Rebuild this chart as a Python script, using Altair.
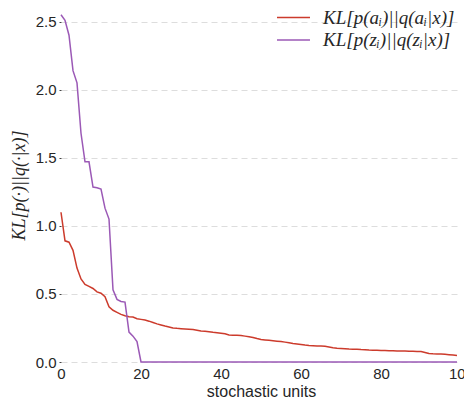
import altair as alt
import pandas as pd

units = list(range(100))

kl_a = [1.10, 0.89, 0.88, 0.82, 0.69, 0.61, 0.57, 0.555, 0.54, 0.515,
        0.505, 0.48, 0.405, 0.38, 0.365, 0.35, 0.34, 0.332, 0.33, 0.318,
        0.313, 0.308, 0.300, 0.290, 0.280, 0.272, 0.264, 0.257, 0.250, 0.247,
        0.245, 0.243, 0.241, 0.238, 0.233, 0.228, 0.225, 0.222, 0.218, 0.215,
        0.212, 0.208, 0.198, 0.197, 0.196, 0.194, 0.190, 0.185, 0.180, 0.172,
        0.165, 0.162, 0.159, 0.156, 0.153, 0.150, 0.146, 0.141, 0.136, 0.133,
        0.129, 0.125, 0.122, 0.120, 0.118, 0.117, 0.115, 0.110, 0.105, 0.101,
        0.099, 0.097, 0.095, 0.094, 0.093, 0.091, 0.090, 0.088, 0.087, 0.086,
        0.085, 0.084, 0.083, 0.082, 0.081, 0.080, 0.080, 0.079, 0.079, 0.078,
        0.077, 0.070, 0.062, 0.060, 0.059, 0.058, 0.057, 0.054, 0.051, 0.048]

kl_z = [2.55, 2.51, 2.40, 2.14, 2.05, 1.68, 1.47, 1.47, 1.285, 1.28,
        1.27, 1.13, 1.05, 0.53, 0.46, 0.445, 0.44, 0.22, 0.19, 0.15] + [0.0] * 80

series_names = ["KL[p(aᵢ)||q(aᵢ|x)]", "KL[p(zᵢ)||q(zᵢ|x)]"]
series_colors = ["#cc3b2c", "#9b59b6"]

rows = []
for name, vals in zip(series_names, [kl_a, kl_z]):
    for u, v in zip(units, vals):
        rows.append({"unit": u, "kl": v, "series": name})
df = pd.DataFrame(rows)

chart = alt.Chart(df).mark_line(strokeWidth=1.5).encode(
    x=alt.X("unit:Q",
            scale=alt.Scale(domain=[0, 100], nice=False, zero=False),
            axis=alt.Axis(title="stochastic units", values=[0, 20, 40, 60, 80, 100],
                          grid=False, domain=False, ticks=False,
                          labelFontSize=15, labelFont="Liberation Sans",
                          labelColor="#262626", labelPadding=4,
                          titleFontSize=16, titleFont="Liberation Sans",
                          titleFontWeight="normal", titleColor="#262626",
                          titlePadding=2, labelFlush=False)),
    y=alt.Y("kl:Q",
            scale=alt.Scale(domain=[0, 2.6], nice=False),
            axis=alt.Axis(title="KL[p(·)||q(·|x)]", values=[0, 0.5, 1.0, 1.5, 2.0, 2.5],
                          format=".1f", grid=True, gridDash=[6, 4],
                          gridColor="#dddddd", gridWidth=1,
                          domain=False, ticks=True, tickSize=2, tickColor="#444444",
                          labelFontSize=15, labelFont="Liberation Sans",
                          labelColor="#262626", labelPadding=3,
                          titleFont="Liberation Serif", titleFontStyle="italic",
                          titleFontWeight="normal", titleFontSize=18,
                          titleColor="#262626", titlePadding=7)),
    color=alt.Color("series:N",
                    scale=alt.Scale(domain=series_names, range=series_colors),
                    legend=alt.Legend(title=None, orient="none", legendX=223, legendY=0,
                                      symbolType="M-2,0H2", symbolSize=272,
                                      symbolStrokeWidth=1.5, padding=0,
                                      labelFont="Liberation Serif", labelFontStyle="italic",
                                      labelFontSize=19, labelColor="#262626",
                                      labelOffset=20, rowPadding=2.5)),
).properties(
    width=400, height=354,
    padding={"left": 53, "top": 0, "right": 3, "bottom": 38},
    autosize=alt.AutoSizeParams(type="none"),
).configure_view(stroke=None)

chart.save("out.html", embed_options={"renderer": "svg", "actions": False})
